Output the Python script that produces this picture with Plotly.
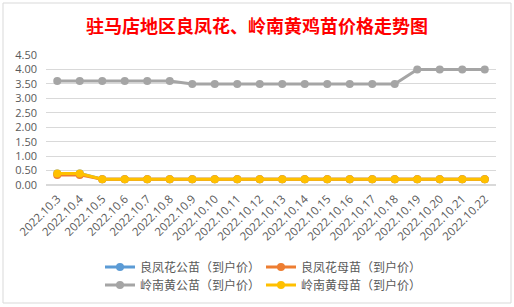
import plotly.graph_objects as go

dates = ["2022.10.3", "2022.10.4", "2022.10.5", "2022.10.6", "2022.10.7", "2022.10.8",
         "2022.10.9", "2022.10.10", "2022.10.11", "2022.10.12", "2022.10.13", "2022.10.14",
         "2022.10.15", "2022.10.16", "2022.10.17", "2022.10.18", "2022.10.19", "2022.10.20",
         "2022.10.21", "2022.10.22"]
lfh_male = [0.40, 0.40, 0.20, 0.20, 0.20, 0.20, 0.20, 0.20, 0.20, 0.20,
            0.20, 0.20, 0.20, 0.20, 0.20, 0.20, 0.20, 0.20, 0.20, 0.20]
lfh_female = [0.35, 0.35, 0.20, 0.20, 0.20, 0.20, 0.20, 0.20, 0.20, 0.20,
              0.20, 0.20, 0.20, 0.20, 0.20, 0.20, 0.20, 0.20, 0.20, 0.20]
lnh_male = [3.6, 3.6, 3.6, 3.6, 3.6, 3.6, 3.5, 3.5, 3.5, 3.5,
            3.5, 3.5, 3.5, 3.5, 3.5, 3.5, 4.0, 4.0, 4.0, 4.0]
lnh_female = [0.40, 0.40, 0.20, 0.20, 0.20, 0.20, 0.20, 0.20, 0.20, 0.20,
              0.20, 0.20, 0.20, 0.20, 0.20, 0.20, 0.20, 0.20, 0.20, 0.20]
yticks = [0, 0.5, 1, 1.5, 2, 2.5, 3, 3.5, 4, 4.5]

series = [
    ("良凤花公苗（到户价）", lfh_male, "#5B9BD5", "legend"),
    ("良凤花母苗（到户价）", lfh_female, "#ED7D31", "legend"),
    ("岭南黄公苗（到户价）", lnh_male, "#A5A5A5", "legend2"),
    ("岭南黄母苗（到户价）", lnh_female, "#FFC000", "legend2"),
]

fig = go.Figure()
for name, vals, col, lg in series:
    fig.add_trace(go.Scatter(
        x=dates, y=vals, name=name, mode="lines+markers", legend=lg,
        line=dict(color=col, width=3), marker=dict(color=col, size=8),
    ))

W, H = 514, 307
L, R, T, B = 46, 18, 55, 122
pw, ph = W - L - R, H - T - B

def px2x(px):
    return (px - L) / pw

def py2y(py):
    return (H - B - py) / ph

legend_common = dict(orientation="h", xref="container", yref="container",
                     x=(100 / W), xanchor="left", yanchor="middle",
                     font=dict(size=12, color="#595959", family="Noto Sans CJK SC"),
                     entrywidth=116, itemwidth=30, bgcolor="rgba(0,0,0,0)")

fig.update_layout(
    width=W, height=H,
    margin=dict(l=L, r=R, t=T, b=B, autoexpand=False),
    paper_bgcolor="white", plot_bgcolor="white",
    font=dict(family="Noto Sans CJK SC, Open Sans, sans-serif", color="#595959", size=11),
    title=dict(text="<b>驻马店地区良凤花、岭南黄鸡苗价格走势图</b>",
               x=0.5, xanchor="center", y=1 - 27 / H, yanchor="middle",
               font=dict(size=18, color="#FF0000", family="Noto Sans CJK SC")),
    xaxis=dict(type="category", tickangle=-45, showgrid=False, showline=False,
               ticks="", ticklabelstandoff=4, automargin=False,
               tickfont=dict(size=11.5, color="#595959", family="Open Sans"),
               range=[-0.5, len(dates) - 0.5]),
    yaxis=dict(range=[0, 4.5], tickvals=yticks, tickformat=".2f", automargin=False,
               showgrid=True, gridcolor="#D9D9D9", gridwidth=1, ticklabelstandoff=8,
               zeroline=True, zerolinecolor="#D9D9D9", showline=False, ticks="",
               tickfont=dict(size=11, color="#595959", family="Open Sans")),
    legend=dict(y=1 - 267 / H, **legend_common),
    legend2=dict(y=1 - 285 / H, **legend_common),
    showlegend=True,
    shapes=[dict(type="rect", xref="paper", yref="paper",
                 x0=px2x(3), x1=px2x(511), y0=py2y(303), y1=py2y(3),
                 line=dict(color="#D9D9D9", width=1), layer="below")],
)

fig.write_html("out.html")
